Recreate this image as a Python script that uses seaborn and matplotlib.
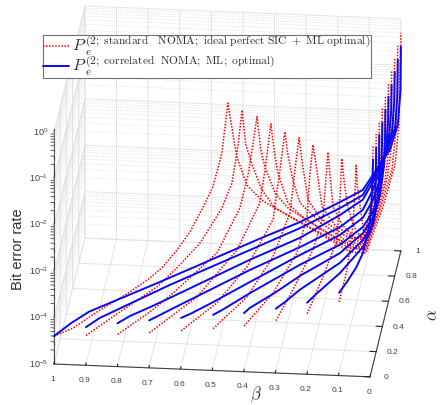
import matplotlib
matplotlib.use('Agg')
import matplotlib.pyplot as plt
import seaborn as sns
import numpy as np
from mpl_toolkits.mplot3d import proj3d

sns.set_style('white')
plt.rcParams['font.family'] = ['Liberation Sans', 'DejaVu Sans']
plt.rcParams['mathtext.fontset'] = 'cm'
plt.rcParams['mathtext.default'] = 'regular'

# each curve runs along alpha + beta = start
starts = [1.0, 0.9, 0.8, 0.7, 0.6, 0.5, 0.4, 0.3, 0.2, 0.1]
beta_ticks = [0, 0.1, 0.2, 0.3, 0.4, 0.5, 0.6, 0.7, 0.8, 0.9, 1]
alpha_ticks = [0, 0.2, 0.4, 0.6, 0.8, 1]
ber_exponents = [-5, -4, -3, -2, -1, 0]

blue_beta = [
    [1, 0.951, 0.899, 0.801, 0.7, 0.599, 0.501, 0.401, 0.291, 0.176, 0.11, 0.081, 0.032, 0.009, 0.001, 0],
    [0.899, 0.859, 0.786, 0.657, 0.426, 0.282, 0.167, 0.101, 0.072, 0.029, 0.008, 0.001, 0],
    [0.799, 0.763, 0.705, 0.648, 0.417, 0.273, 0.158, 0.092, 0.063, 0.028, 0.008, 0.001, 0],
    [0.699, 0.668, 0.639, 0.524, 0.408, 0.264, 0.149, 0.083, 0.054, 0.028, 0.008, 0.001, 0],
    [0.598, 0.572, 0.515, 0.399, 0.255, 0.14, 0.074, 0.045, 0.025, 0.007, 0.001, 0],
    [0.497, 0.471, 0.39, 0.246, 0.131, 0.065, 0.036, 0.016, 0.004, 0.001, 0],
    [0.399, 0.382, 0.31, 0.237, 0.122, 0.056, 0.027, 0.01, 0.003, 0.001, 0],
    [0.298, 0.272, 0.229, 0.113, 0.047, 0.018, 0.007, 0.001, 0],
    [0.199, 0.176, 0.104, 0.038, 0.015, 0.003, 0.001, 0],
    [0.098, 0.075, 0.049, 0.029, 0.01, 0.005, 0.002, 0],
]
blue_log_ber = [
    [-4.40, -4.24, -4.12, -4.05, -3.98, -3.90, -3.82, -3.74, -3.67, -3.52, -3.42, -3.17, -2.75, -2.26, -1.53, -0.60],
    [-4.18, -4.08, -4.00, -3.86, -3.67, -3.55, -3.40, -3.28, -2.98, -2.48, -2.06, -1.36, -0.61],
    [-4.07, -4.00, -3.95, -3.89, -3.63, -3.51, -3.30, -3.13, -2.82, -2.32, -1.87, -1.20, -0.60],
    [-3.98, -3.94, -3.90, -3.75, -3.60, -3.46, -3.31, -3.10, -2.74, -2.26, -1.73, -1.15, -0.61],
    [-3.90, -3.88, -3.80, -3.61, -3.38, -3.23, -3.02, -2.71, -2.32, -1.72, -1.09, -0.59],
    [-3.81, -3.77, -3.60, -3.34, -3.19, -2.97, -2.71, -2.40, -1.78, -1.14, -0.60],
    [-3.74, -3.67, -3.52, -3.33, -3.12, -2.85, -2.59, -2.25, -1.73, -1.09, -0.61],
    [-3.62, -3.54, -3.38, -3.08, -2.75, -2.49, -2.09, -1.57, -0.60],
    [-3.46, -3.35, -3.05, -2.65, -2.34, -1.83, -1.08, -0.61],
    [-3.22, -3.04, -2.80, -2.53, -1.97, -1.55, -1.02, -0.59],
]
red_beta = [
    [1, 0.945, 0.876, 0.781, 0.723, 0.686, 0.646, 0.608, 0.571, 0.542, 0.516, 0.499, 0.473, 0.444, 0.401, 0.363, 0.277, 0.205, 0.147, 0.101, 0.052, 0.017, 0.006, 0],
    [0.899, 0.801, 0.694, 0.634, 0.57, 0.507, 0.478, 0.461, 0.449, 0.438, 0.42, 0.392, 0.354, 0.282, 0.196, 0.138, 0.092, 0.052, 0.017, 0.005, 0],
    [0.799, 0.705, 0.639, 0.512, 0.446, 0.423, 0.409, 0.397, 0.386, 0.374, 0.345, 0.308, 0.244, 0.172, 0.115, 0.083, 0.048, 0.02, 0.005, 0],
    [0.699, 0.561, 0.446, 0.38, 0.365, 0.348, 0.339, 0.328, 0.299, 0.264, 0.207, 0.149, 0.091, 0.074, 0.045, 0.019, 0.005, 0],
    [0.598, 0.495, 0.408, 0.333, 0.313, 0.299, 0.29, 0.276, 0.255, 0.198, 0.126, 0.077, 0.042, 0.019, 0.005, 0],
    [0.497, 0.399, 0.324, 0.275, 0.261, 0.249, 0.241, 0.223, 0.189, 0.117, 0.068, 0.039, 0.016, 0.004, 0],
    [0.399, 0.315, 0.246, 0.217, 0.209, 0.2, 0.191, 0.174, 0.137, 0.093, 0.059, 0.036, 0.013, 0.003, 0],
    [0.298, 0.249, 0.191, 0.162, 0.154, 0.148, 0.142, 0.133, 0.107, 0.07, 0.044, 0.024, 0.01, 0.001, 0],
    [0.199, 0.153, 0.113, 0.104, 0.099, 0.093, 0.084, 0.067, 0.044, 0.027, 0.009, 0.001, 0],
    [0.098, 0.075, 0.058, 0.052, 0.049, 0.046, 0.038, 0.026, 0.015, 0.006, 0.002, 0],
]
red_log_ber = [
    [-4.40, -4.36, -4.18, -3.98, -3.82, -3.67, -3.41, -3.11, -2.68, -2.30, -1.63, -0.60, -1.82, -2.50, -2.93, -3.19, -3.77, -4.26, -4.66, -4.80, -3.93, -3.10, -2.27, -0.30],
    [-4.36, -4.09, -3.81, -3.53, -3.17, -2.57, -2.10, -1.36, -0.60, -1.38, -1.85, -2.46, -2.94, -3.42, -3.97, -4.33, -4.48, -3.72, -2.94, -2.11, -0.31],
    [-4.31, -4.05, -3.81, -3.25, -2.44, -1.79, -1.18, -0.60, -1.34, -1.74, -2.37, -2.78, -3.24, -3.76, -4.11, -4.19, -3.50, -2.77, -1.94, -0.30],
    [-4.25, -3.81, -3.08, -2.23, -1.55, -0.60, -1.18, -1.71, -2.42, -2.77, -3.19, -3.59, -3.88, -3.88, -3.30, -2.61, -1.78, -0.31],
    [-4.18, -3.83, -3.26, -2.43, -1.41, -0.62, -1.14, -1.71, -2.26, -2.81, -3.37, -3.60, -3.10, -2.45, -1.62, -0.31],
    [-4.11, -3.66, -2.98, -2.15, -1.26, -0.60, -1.10, -2.00, -2.47, -3.03, -3.30, -2.88, -2.29, -1.45, -0.30],
    [-4.02, -3.51, -2.81, -2.11, -1.22, -0.60, -1.05, -2.00, -2.48, -2.82, -2.99, -2.66, -2.03, -1.19, -0.30],
    [-3.88, -3.33, -2.61, -1.97, -1.19, -0.61, -1.12, -1.83, -2.28, -2.65, -2.71, -2.27, -1.65, -0.92, -0.30],
    [-3.70, -3.01, -2.32, -1.37, -0.60, -1.07, -1.59, -2.10, -2.44, -2.20, -1.60, -0.97, -0.31],
    [-3.42, -2.78, -1.85, -1.11, -0.60, -1.02, -1.47, -2.15, -2.24, -1.66, -1.02, -0.30],
]

fig = plt.figure(figsize=(4.43, 4.05), dpi=100)
ax = fig.add_axes([0, 0, 1, 1], projection='3d', proj_type='ortho', computed_zorder=False)
ax.view_init(elev=24, azim=-84.3)
ax.set_xlim(1, 0)
ax.set_ylim(0, 1)
ax.set_zlim(-5, 0)
aspect = (317.5, 311, 254)
ax.set_box_aspect(aspect, zoom=1)

red = sns.color_palette(['#ff0000'])[0]
blue = sns.color_palette(['#0a0af0'])[0]
grid_col = '#e4e4e4'
text_col = '#404040'

for axis in (ax.xaxis, ax.yaxis, ax.zaxis):
    axis.set_pane_color((1, 1, 1, 1))
    axis.pane.set_edgecolor('none')
    axis.line.set_color(text_col)
    axis.line.set_linewidth(0.8)
    axis._axinfo['grid'].update(color=grid_col, linewidth=0.7)
    axis._axinfo['tick'].update(inward_factor=0.0, outward_factor=0.25)

ax.set_xticks(beta_ticks)
ax.set_xticklabels([f'{t:g}' for t in beta_ticks], fontsize=6, color=text_col)
ax.set_yticks(alpha_ticks)
ax.set_zticks(ber_exponents)
ax.zaxis.set_ticks_position('lower')
ax.zaxis.set_label_position('lower')
ax.tick_params(axis='x', pad=-3)

# alpha and BER tick labels sit where the native ones cannot be pushed
for axis in (ax.yaxis, ax.zaxis):
    for tick in axis.get_major_ticks():
        tick.label1.set_visible(False)
        tick.label1.set_text('')
for a in alpha_ticks:
    ax.text(-0.052, a, -5, f'{a:g}', fontsize=6, color=text_col, ha='center', va='center')
for e in ber_exponents:
    ax.text(1.018, 0, e, f'$10^{{{e}}}$', fontsize=6.5, color=text_col, ha='right', va='center')

# log minor grid on the two back walls and minor ticks on the z axis
for e in ber_exponents[:-1]:
    for m in range(2, 10):
        z = e + np.log10(m)
        ax.plot([1, 0], [1, 1], [z, z], ls=':', lw=0.5, color='#d4d4d4', zorder=1)
        ax.plot([1, 1], [0, 1], [z, z], ls=':', lw=0.5, color='#d4d4d4', zorder=1)
        ax.plot([1, 1.01], [0, 0], [z, z], lw=0.6, color=text_col, zorder=1, clip_on=False)

for b, bb, zz in zip(starts, red_beta, red_log_ber):
    aa = [b - v for v in bb]
    ax.plot(bb, aa, zz, ls=(0, (1, 1)), lw=1.1, color=red, zorder=3)
for b, bb, zz in zip(starts, blue_beta, blue_log_ber):
    aa = [b - v for v in bb]
    ax.plot(bb, aa, zz, lw=1.4, color=blue, zorder=4)

# place the box on the figure
def to_px(x, y, z):
    u, v, _ = proj3d.proj_transform(x, y, z, ax.get_proj())
    return ax.transData.transform((u, v))

fig.canvas.draw()
w = np.linalg.norm(to_px(1, 0, -5) - to_px(0, 0, -5))
ax.set_box_aspect(aspect, zoom=np.hypot(316, 13) / w)
fig.canvas.draw()
p = to_px(1, 0, -5)
ax.set_position([(54 - p[0]) / 443, ((405 - 364) - p[1]) / 405, 1, 1])

handles = [plt.Line2D([], [], ls=(0, (1, 1)), lw=1.1, color=red),
           plt.Line2D([], [], lw=1.4, color=blue)]
labels = [r'${\mathit{P}\,}_{\mathit{e}}^{\mathrm{(2;\ standard\ \ \ NOMA;\ ideal\ perfect\ SIC\ +\ ML\ optimal)}}$',
          r'${\mathit{P}\,}_{\mathit{e}}^{\mathrm{(2;\ correlated\ \ NOMA;\ ML;\ optimal)}}$']
leg = fig.legend(handles, labels, loc='upper left', bbox_to_anchor=(43 / 443, 1 - 35 / 405),
                 borderaxespad=0, fontsize=11.8, frameon=True, fancybox=False, framealpha=1,
                 edgecolor='#707070', handlelength=1.6, handletextpad=0.2, labelspacing=-0.22,
                 borderpad=0, labelcolor='#303030')
leg.get_frame().set_linewidth(0.8)

fig.text(18 / 443, 1 - 249 / 405, 'Bit error rate', rotation=90, fontsize=10.5, color='#303030',
         ha='center', va='center')
fig.text(256 / 443, 1 - 395 / 405, r'$\mathit{\beta}$', fontsize=12, color='#303030', ha='center', va='center')
fig.text(433 / 443, 1 - 315 / 405, r'$\mathit{\alpha}$', rotation=90, fontsize=12, color='#303030', ha='center', va='center')

fig.savefig('out.png', dpi=100)
